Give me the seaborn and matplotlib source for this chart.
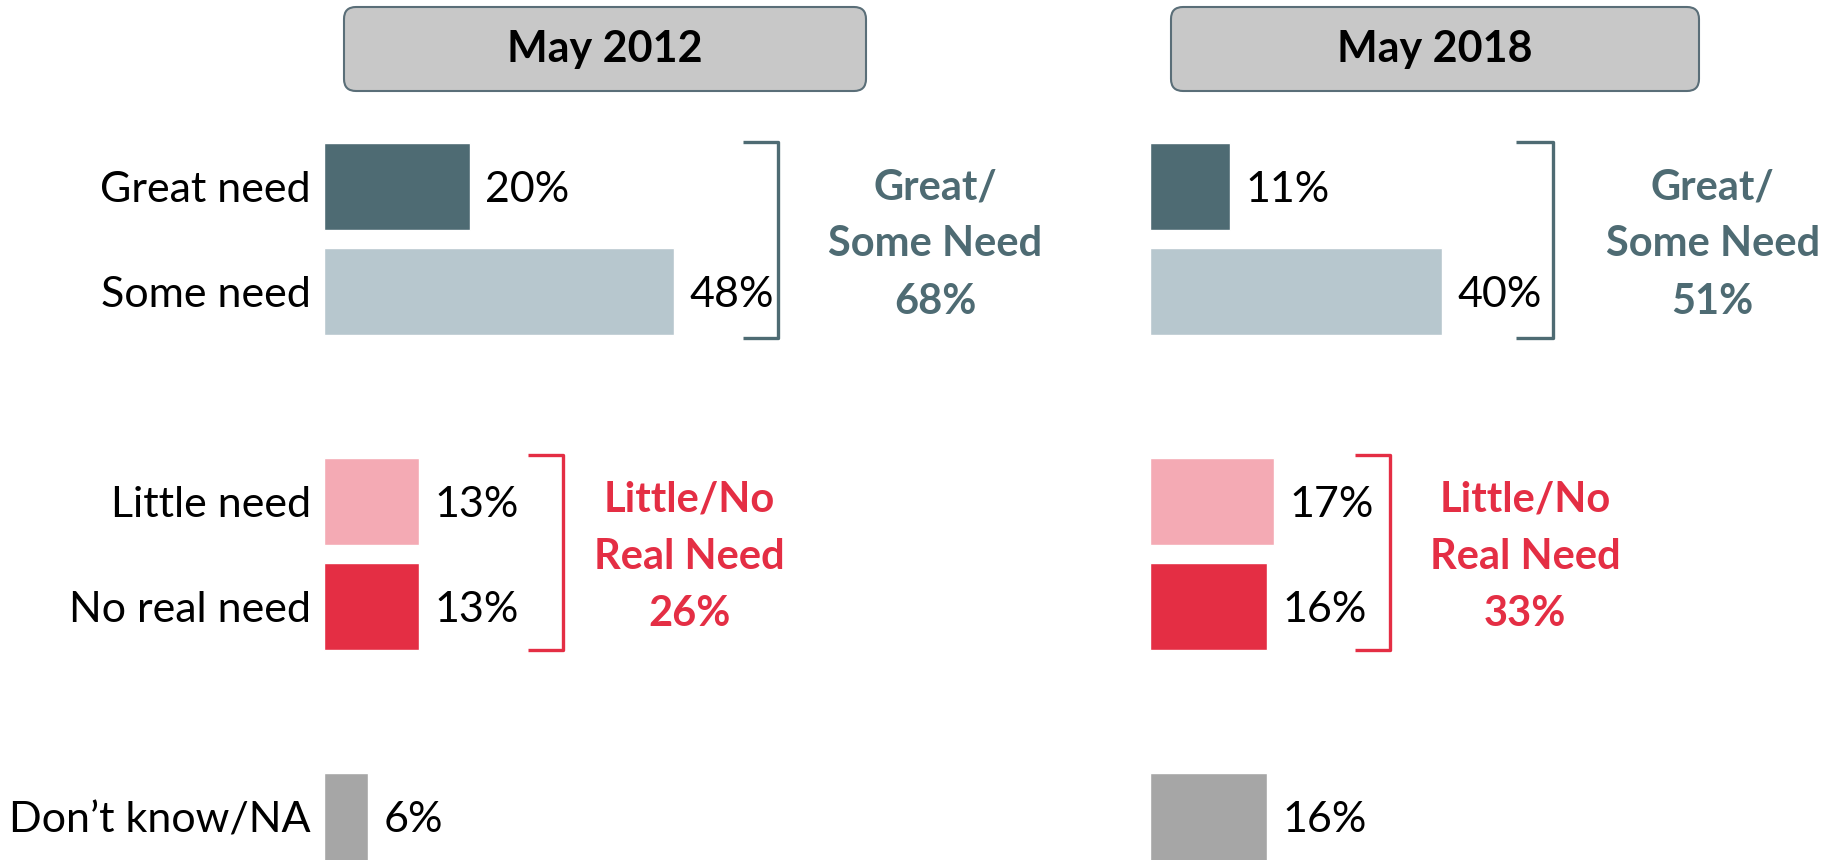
import matplotlib
matplotlib.use('Agg')
import matplotlib.pyplot as plt
from matplotlib.patches import FancyBboxPatch
from matplotlib.transforms import IdentityTransform
import seaborn as sns
import pandas as pd

# data
responses = ['Great need', 'Some need', 'Little need', 'No real need', "Don\u2019t know/NA"]
pct_2012 = [20, 48, 13, 13, 6]
pct_2018 = [11, 40, 17, 16, 16]
panel_titles = ['May 2012', 'May 2018']
group_names = ['Great/\nSome Need', 'Little/No\nReal Need']
group_2012 = [68, 26]
group_2018 = [51, 33]

# slots with blank gaps between the groups
order = ['Great need', 'Some need', ' ', 'Little need', 'No real need', '  ', "Don\u2019t know/NA"]
colors = {'Great need': '#4E6B73', 'Some need': '#B7C7CE', 'Little need': '#F4AAB4',
          'No real need': '#E42E44', "Don\u2019t know/NA": '#A6A6A6'}
slate = '#4E6B73'
red = '#E42E44'

sns.set_style('white')
plt.rcParams['font.family'] = ['Lato', 'DejaVu Sans']

W, H = 1821, 860
fig = plt.figure(figsize=(W / 100, H / 100), dpi=100)
px = 7.3  # pixels per percent
fs = 31
fs_group = 30

panels = [
    dict(vals=pct_2012, groups=group_2012, left=0, right=910.5, origin=324,
         brackets=[(62.2, 57.4), (32.7, 27.9)], gtext=[83.7, 50.1], box=(344, 866)),
    dict(vals=pct_2018, groups=group_2018, left=910.5, right=W, origin=1150,
         brackets=[(55.2, 50.1), (32.9, 28.1)], gtext=[77.1, 51.4], box=(1171, 1699)),
]

for i, p in enumerate(panels):
    ax = fig.add_axes([p['left'] / W, 0, (p['right'] - p['left']) / W, 1])
    df = pd.DataFrame({'resp': responses, 'pct': p['vals']})
    sns.barplot(data=df, x='pct', y='resp', hue='resp', palette=colors, order=order,
                hue_order=responses, width=0.83, legend=False, ax=ax, saturation=1)
    ax.set_xlim(-(p['origin'] - p['left']) / px, (p['right'] - p['origin']) / px)
    ax.set_ylim(6.41, -1.775)
    ax.axis('off')

    for r, v in zip(responses, p['vals']):
        y = order.index(r)
        ax.text(v + 2.1, y + 0.03, f'{v}%', va='center', ha='left', fontsize=fs, color='black')
        if i == 0:
            ax.text(-1.8, y + 0.03, r, va='center', ha='right', fontsize=fs, color='black')

    # brackets
    spans = [(-0.42, 1.44), (2.56, 4.41)]
    for (xv, xt), (y0, y1), col, gx, gname, gval in zip(
            p['brackets'], spans, [slate, red], p['gtext'], group_names, p['groups']):
        ax.plot([xt, xv, xv, xt], [y0, y0, y1, y1], color=col, lw=2.4,
                solid_joinstyle='round', solid_capstyle='butt', clip_on=False)
        ax.text(gx, (y0 + y1) / 2 + 0.04, f'{gname}\n{gval}%', ha='center', va='center',
                fontsize=fs_group, fontweight='bold', color=col, linespacing=1.62)

    # header box
    x0, x1 = p['box']
    box = FancyBboxPatch((x0, H - 91), x1 - x0, 84, boxstyle='round,pad=0,rounding_size=12',
                         transform=IdentityTransform(), facecolor='#C8C8C8',
                         edgecolor='#5A6E78', lw=1.5)
    fig.patches.append(box)
    fig.text((x0 + x1) / 2 / W, (H - 49) / H, panel_titles[i], ha='center', va='center',
             fontsize=fs, fontweight='bold', color='black')

fig.savefig('out.png', dpi=100)
